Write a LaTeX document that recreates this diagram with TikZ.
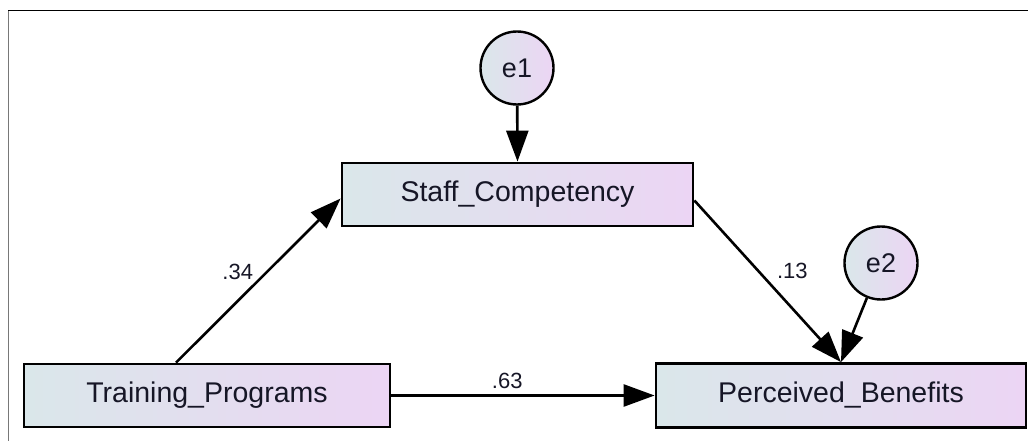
\documentclass[tikz,border=0pt]{standalone}
\usepackage{fontspec}
\setmainfont{Liberation Sans}
\usetikzlibrary{arrows.meta}
\definecolor{fillL}{RGB}{218,231,234}
\definecolor{fillR}{RGB}{236,213,244}
\definecolor{ink}{RGB}{22,22,38}
\definecolor{framegray}{RGB}{120,120,120}
\begin{document}
\begin{tikzpicture}[x=1pt,y=-1pt,
  obs/.style={rectangle, draw=black, line width=2.8pt, left color=fillL, right color=fillR,
              text=ink, font=\fontsize{28.5}{32}\selectfont, inner sep=0pt},
  err/.style={circle, draw=black, line width=2.4pt, left color=fillL, right color=fillR,
              text=ink, font=\fontsize{27}{30}\selectfont, inner sep=0pt, minimum size=73pt},
  path/.style={draw=black, line width=2.6pt, -{Triangle[length=31pt,width=22pt]}},
  lbl/.style={text=ink, font=\fontsize{22}{24}\selectfont, inner sep=2pt}]
  \useasboundingbox (0,0) rectangle (1028,441);
  % outer frame
  \draw[framegray, line width=1.8pt] (8.5,441) -- (8.5,10.5);
  \draw[black, line width=1pt] (8,10.5) -- (1028,10.5);

  % observed variables
  \node[obs, minimum width=351pt, minimum height=63pt] (staff) at (517.5,194.5) {Staff\_Competency};
  \node[obs, minimum width=366pt, minimum height=63pt] (train) at (207,395.5) {Training\_Programs};
  \node[obs, minimum width=370pt, minimum height=64pt] (perc) at (841,395.5) {Perceived\_Benefits};

  % error terms
  \node[err] (e1) at (517,68) {e1};
  \node[err] (e2) at (881,263) {e2};

  % paths
  \draw[path] (e1) -- (staff.north);
  \draw[path] ([xshift=-31pt]train.north) -- ([yshift=-4pt]staff.west)
    node[lbl, pos=0.5, anchor=south east, xshift=-2pt, yshift=-2pt] (l34) {.34};
  \draw[path] ([yshift=-6pt]staff.east) -- (perc.north)
    node[lbl, pos=0.5, anchor=west, xshift=6pt, yshift=10pt] (l13) {.13};
  \draw[path] (e2) -- (perc.north);
  \draw[path] (train.east) -- (perc.west)
    node[lbl, pos=0.44, anchor=south, yshift=3pt] (l63) {.63};
\end{tikzpicture}
\end{document}
